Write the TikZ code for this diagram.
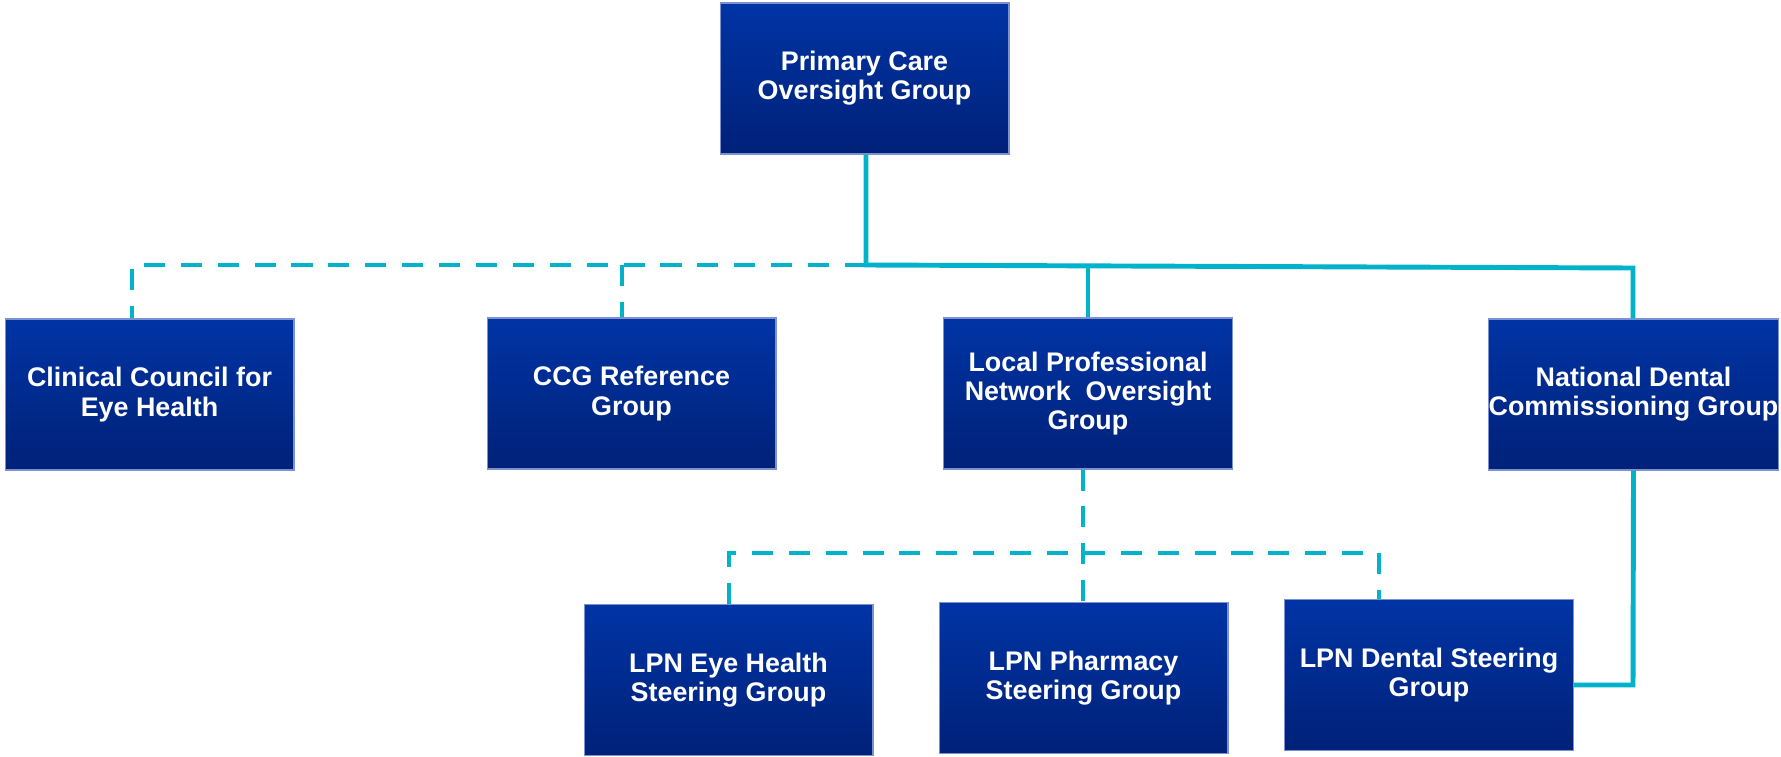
\documentclass[tikz,border=0pt]{standalone}
\usepackage{fontspec}
\setmainfont{Liberation Sans}
\usetikzlibrary{positioning}
\definecolor{boxtop}{RGB}{0,52,165}
\definecolor{boxbottom}{RGB}{0,33,120}
\definecolor{boxedge}{RGB}{125,145,210}
\definecolor{linkcyan}{RGB}{0,178,202}
\tikzset{group/.style={draw=boxedge,line width=0.6pt,top color=boxtop,bottom color=boxbottom,
                       minimum width=5.78cm,minimum height=3.02cm,inner sep=0pt,
                       text=white,align=center,font=\fontsize{15.3}{16.6}\selectfont\bfseries},
         link/.style={draw=linkcyan,line width=2.8pt},
         dashlink/.style={link,dash pattern=on 12pt off 9pt},
         }

\begin{document}
\begin{tikzpicture}[x=0.02cm,y=-0.02cm]
\useasboundingbox (0,0) rectangle (1781,757);
\node[group] (top) at (864.5,78.5) {Primary Care\\Oversight Group};
\node[group] (clin) at (149.5,394.5) {Clinical Council for\\Eye Health};
\node[group] (ccg) at (631.5,393.5) {CCG Reference\\Group};
\node[group] (lpno) at (1088,393.5) {Local Professional\\Network\ \ Oversight\\Group};
\node[group] (natl) at (1633.5,394.5) {National Dental\\Commissioning Group};
\node[group] (eye) at (728.5,680) {LPN Eye Health\\Steering Group};
\node[group] (pharm) at (1083.5,678) {LPN Pharmacy\\Steering Group};
\node[group] (dent) at (1429,675) {LPN Dental Steering\\Group};

\coordinate (tj) at (866,265);
\coordinate (rj) at (1633,268);
\coordinate (lj) at (1088,267);
\coordinate (cl) at (132,265);
\coordinate (cj) at (622,265);
\coordinate (mj) at (1083,553);
\coordinate (ml) at (729,553);
\coordinate (mr) at (1379,553);
\coordinate (dj) at (1633,685);

\draw[link] (tj |- top.south) -- (tj) -- (rj) -- (rj |- natl.north);
\draw[link] (lj) -- (lj |- lpno.north);
\draw[dashlink] (tj) -- (cl) -- (cl |- clin.north);
\draw[dashlink] (cj) -- (cj |- ccg.north);
\draw[dashlink] (mj |- lpno.south) -- (mj) -- (mj |- pharm.north);
\draw[dashlink] (ml |- eye.north) -- (ml) -- (mr) -- (mr |- dent.north);
\draw[link] (natl.south) -- (dj) -- (dj -| dent.east);
\end{tikzpicture}
\end{document}
